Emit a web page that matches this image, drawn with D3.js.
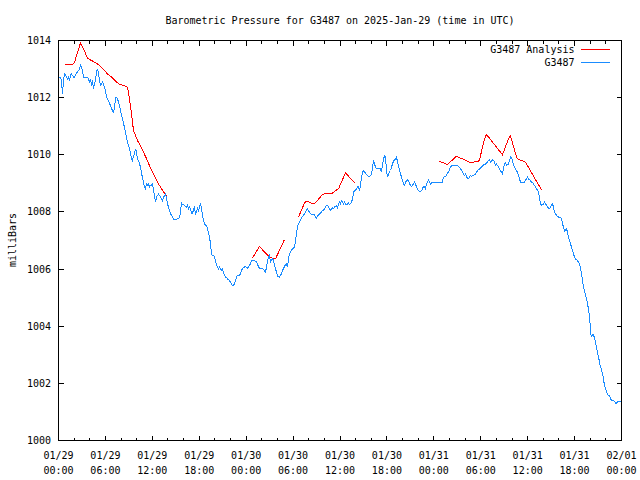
<!DOCTYPE html>
<html><head><meta charset="utf-8">
<script src="https://cdn.jsdelivr.net/npm/d3@7"></script>
<style>
html,body{margin:0;padding:0;background:#fff;}
svg{display:block;}
text{font-family:"DejaVu Sans Mono","Liberation Mono",monospace;font-size:10px;fill:#000;}
</style></head><body>
<svg id="chart" width="640" height="480"></svg>
<script>
const titleText = "Barometric Pressure for G3487 on 2025-Jan-29 (time in UTC)";
const yLabelText = "milliBars";
const seriesNames = ["G3487 Analysis", "G3487"];
const seriesColors = ["#ff0000", "#1a8cff"];
const startTime = Date.UTC(2025, 0, 29, 0, 0);
const endTime = Date.UTC(2025, 1, 1, 0, 0);
const yTickValues = [1000, 1002, 1004, 1006, 1008, 1010, 1012, 1014];

// [hours since 2025-01-29 00:00 UTC, mbar]
const stationData = [
[0.10,1012.72],[0.26,1012.72],[0.38,1012.60],[0.51,1012.13],[0.64,1012.60],[0.77,1012.83],[0.90,1012.78],[1.02,1012.72],[1.15,1012.66],[1.28,1012.72],[1.41,1012.60],[1.53,1012.78],[1.66,1012.83],[1.79,1012.78],[1.92,1012.72],[2.05,1012.72],[2.17,1012.78],[2.30,1012.89],[2.43,1012.89],[2.56,1012.95],[2.69,1013.01],[2.81,1013.13],[2.94,1013.07],[3.07,1012.95],[3.20,1012.72],[3.45,1012.72],[3.71,1012.72],[3.84,1012.66],[3.97,1012.54],[4.09,1012.60],[4.22,1012.48],[4.35,1012.60],[4.48,1012.31],[4.60,1012.48],[4.73,1012.60],[4.86,1012.89],[4.99,1013.01],[5.12,1012.83],[5.24,1012.60],[5.37,1012.43],[5.50,1012.48],[5.63,1012.54],[5.75,1012.48],[5.88,1012.37],[6.01,1012.25],[6.14,1012.02],[6.27,1011.96],[6.39,1011.90],[6.52,1011.78],[6.65,1011.73],[6.78,1011.61],[6.91,1011.55],[7.03,1011.49],[7.16,1011.61],[7.29,1012.02],[7.42,1012.02],[7.55,1011.96],[7.67,1011.84],[7.80,1011.73],[7.93,1011.55],[8.06,1011.37],[8.19,1011.26],[8.31,1011.08],[8.44,1010.97],[8.57,1010.79],[8.70,1010.62],[8.82,1010.44],[8.95,1010.32],[9.08,1010.21],[9.21,1010.03],[9.34,1009.86],[9.46,1009.80],[9.59,1009.97],[9.72,1010.03],[9.85,1010.21],[9.98,1010.09],[10.10,1009.86],[10.23,1009.80],[10.36,1009.68],[10.49,1009.57],[10.62,1009.33],[10.74,1009.22],[10.87,1009.04],[11.00,1008.87],[11.13,1008.81],[11.25,1008.98],[11.38,1008.93],[11.51,1008.98],[11.64,1008.87],[11.77,1008.93],[11.89,1008.93],[12.02,1008.98],[12.15,1008.75],[12.28,1008.57],[12.41,1008.34],[12.53,1008.52],[12.66,1008.57],[12.79,1008.63],[12.92,1008.57],[13.05,1008.52],[13.17,1008.46],[13.30,1008.40],[13.43,1008.52],[13.56,1008.57],[13.68,1008.63],[13.81,1008.52],[13.94,1008.28],[14.07,1008.17],[14.20,1008.05],
[14.33,1007.93],[14.45,1007.88],[14.58,1007.82],[14.71,1007.76],[14.84,1007.72],[14.96,1007.72],[15.22,1007.76],[15.47,1007.79],[15.60,1007.99],[15.73,1008.31],[15.86,1008.26],[16.11,1008.23],[16.37,1008.17],[16.50,1008.23],[16.63,1008.11],[16.75,1008.17],[16.88,1008.11],[17.01,1007.93],[17.14,1007.93],[17.27,1008.11],[17.39,1008.17],[17.52,1007.93],[17.65,1007.99],[17.78,1008.17],[17.90,1008.05],[18.03,1008.17],[18.16,1008.31],[18.29,1008.11],[18.42,1007.88],[18.54,1007.70],[18.67,1007.58],[18.80,1007.53],[18.93,1007.53],[19.05,1007.41],[19.18,1007.29],[19.31,1007.12],[19.44,1006.88],[19.57,1006.53],[19.69,1006.48],[19.82,1006.48],[19.95,1006.42],[20.08,1006.30],[20.20,1006.13],[20.33,1006.07],[20.46,1006.01],[20.59,1006.07],[20.72,1006.01],[20.84,1005.95],[20.97,1006.01],[21.10,1005.89],[21.23,1005.78],[21.36,1005.72],[21.48,1005.72],[21.61,1005.66],[21.74,1005.62],[21.87,1005.60],[21.99,1005.54],[22.12,1005.48],[22.25,1005.43],[22.38,1005.43],[22.51,1005.48],[22.63,1005.60],[22.76,1005.72],[22.89,1005.78],[23.02,1005.78],[23.15,1005.78],[23.27,1005.83],[23.40,1005.95],[23.53,1006.01],[23.66,1006.07],[23.78,1006.07],[23.91,1006.09],[24.04,1006.07],[24.17,1006.04],[24.30,1006.07],[24.42,1006.13],[24.55,1006.18],[24.68,1006.30],[24.94,1006.30],[25.19,1006.28],[25.32,1006.24],[25.45,1006.18],[25.58,1006.07],[25.83,1006.01],[26.09,1006.01],[26.34,1005.95],[26.47,1005.89],[26.60,1006.07],[26.73,1006.30],[26.86,1006.42],[26.98,1006.48],[27.11,1006.24],[27.24,1006.30],[27.37,1006.36],[27.50,1006.30],[27.62,1006.13],[27.75,1006.01],[27.88,1005.89],[28.01,1005.74],[28.26,1005.72],[28.39,1005.78],[28.52,1005.83],[28.65,1005.95],[28.77,1006.01],[28.90,1006.09],[29.03,1006.16],[29.16,1006.18],[29.29,1006.07],[29.41,1006.36],[29.54,1006.53],[29.67,1006.59],[29.80,1006.65],[29.92,1006.71],[30.18,1006.77],[30.31,1007.00],[30.44,1007.23],[30.56,1007.47],[30.69,1007.58],[30.82,1007.64],[30.95,1007.72],[31.07,1007.79],[31.20,1007.84],[31.33,1007.88],[31.46,1007.93],[31.59,1007.99],[31.71,1008.05],[31.84,1008.11],[31.97,1008.05],[32.10,1007.99],[32.23,1007.93],
[32.48,1007.91],[32.74,1007.90],[32.87,1007.82],[32.99,1007.79],[33.12,1007.84],[33.25,1007.90],[33.38,1007.93],[33.51,1007.96],[33.63,1007.99],[33.76,1008.05],[33.89,1008.05],[34.02,1008.11],[34.15,1008.19],[34.27,1008.23],[34.40,1008.23],[34.53,1008.19],[34.66,1008.11],[34.79,1008.05],[34.91,1008.11],[35.04,1008.14],[35.17,1008.11],[35.30,1008.17],[35.42,1008.19],[35.55,1008.23],[35.68,1008.14],[35.81,1008.28],[35.94,1008.34],[36.06,1008.28],[36.19,1008.40],[36.32,1008.34],[36.45,1008.28],[36.58,1008.34],[36.70,1008.28],[36.83,1008.25],[36.96,1008.28],[37.09,1008.31],[37.22,1008.26],[37.34,1008.28],[37.47,1008.34],[37.60,1008.46],[37.73,1008.69],[37.85,1008.73],[37.98,1008.75],[38.11,1008.81],[38.24,1008.87],[38.37,1008.89],[38.49,1008.75],[38.62,1008.93],[38.75,1009.22],[38.88,1009.39],[39.01,1009.43],[39.13,1009.39],[39.26,1009.36],[39.39,1009.31],[39.52,1009.27],[39.65,1009.24],[39.77,1009.24],[39.90,1009.27],[40.03,1009.33],[40.16,1009.57],[40.28,1009.80],[40.41,1009.68],[40.54,1009.57],[40.67,1009.51],[41.18,1009.51],[41.31,1009.39],[41.44,1009.68],[41.56,1009.80],[41.69,1010.00],[41.82,1009.89],[41.95,1009.45],[42.08,1009.22],[42.20,1009.33],[42.33,1009.39],[42.46,1009.45],[42.59,1009.57],[42.72,1009.68],[42.84,1009.78],[42.97,1009.80],[43.10,1009.86],[43.23,1009.92],[43.36,1009.74],[43.48,1009.63],[43.61,1009.45],[43.74,1009.33],[43.87,1009.22],[43.99,1009.10],[44.12,1008.98],[44.25,1008.93],[44.38,1009.04],[44.51,1009.10],[44.63,1009.12],[44.76,1009.10],[44.89,1008.98],[45.02,1008.93],[45.15,1008.89],[45.27,1008.93],[45.40,1008.98],[45.53,1009.04],[45.66,1008.98],[45.79,1008.87],[45.91,1008.81],[46.04,1008.75],[46.17,1008.71],[46.30,1008.71],[46.43,1008.75],[46.55,1008.81],[46.68,1008.89],[46.81,1008.87],[46.94,1008.81],[47.06,1008.98],[47.19,1009.04],[47.32,1009.12],[47.45,1009.04],[47.58,1008.98],[47.70,1009.01],[47.83,1009.04],[49.07,1009.04],[49.19,1009.16],[49.32,1009.22],[49.45,1009.24],[49.58,1009.27],[49.71,1009.33],[49.83,1009.39],[49.96,1009.45],[50.09,1009.57],[50.22,1009.60],[50.35,1009.63],[50.99,1009.63],[51.20,1009.57],[51.41,1009.51],
[51.54,1009.47],[51.67,1009.39],[51.80,1009.31],[51.92,1009.27],[52.05,1009.33],[52.18,1009.25],[52.31,1009.16],[52.43,1009.16],[52.56,1009.22],[52.69,1009.27],[52.82,1009.24],[52.95,1009.27],[53.07,1009.27],[53.20,1009.30],[53.33,1009.33],[53.46,1009.39],[53.59,1009.45],[53.71,1009.47],[53.84,1009.51],[53.97,1009.54],[54.10,1009.57],[54.22,1009.59],[54.35,1009.65],[54.48,1009.65],[54.61,1009.68],[54.74,1009.71],[54.86,1009.74],[54.99,1009.80],[55.12,1009.82],[55.25,1009.74],[55.38,1009.80],[55.50,1009.82],[55.63,1009.80],[55.76,1009.74],[55.89,1009.63],[56.01,1009.68],[56.14,1009.63],[56.27,1009.57],[56.40,1009.51],[56.53,1009.43],[56.65,1009.39],[56.78,1009.33],[56.91,1009.51],[57.04,1009.68],[57.17,1009.71],[57.29,1009.63],[57.42,1009.65],[57.55,1009.68],[57.68,1009.80],[57.80,1009.92],[57.93,1009.89],[58.06,1009.82],[58.19,1009.63],[58.32,1009.57],[58.44,1009.51],[58.57,1009.45],[58.70,1009.39],[58.83,1009.27],[58.96,1009.16],[59.08,1009.04],[59.60,1009.04],[59.72,1009.10],[59.85,1009.16],[59.98,1009.22],[60.11,1009.16],[60.24,1009.12],[60.36,1009.10],[60.49,1009.04],[60.62,1009.04],[60.75,1008.96],[60.87,1008.93],[61.00,1008.87],[61.13,1008.81],[61.26,1008.75],[61.39,1008.69],[61.51,1008.52],[61.64,1008.28],[61.77,1008.23],[61.90,1008.25],[62.03,1008.28],[62.15,1008.34],[62.28,1008.28],[62.41,1008.23],[62.54,1008.17],[62.66,1008.13],[62.79,1008.11],[62.92,1008.17],[63.05,1008.23],[63.18,1008.28],[63.30,1008.17],[63.43,1007.99],[63.56,1007.93],[63.69,1007.88],[63.82,1007.84],[63.94,1007.82],[64.20,1007.82],
[64.33,1007.76],[64.46,1007.58],[64.58,1007.47],[64.71,1007.33],[64.84,1007.37],[64.97,1007.41],[65.10,1007.29],[65.22,1007.12],[65.35,1007.00],[65.48,1006.88],[65.61,1006.77],[65.74,1006.65],[65.86,1006.53],[65.99,1006.42],[66.12,1006.36],[66.25,1006.32],[66.37,1006.30],[66.50,1006.24],[66.63,1006.18],[66.76,1006.01],[66.89,1005.83],[67.01,1005.60],[67.14,1005.37],[67.27,1005.25],[67.40,1005.08],[67.53,1004.96],[67.65,1004.78],[67.78,1004.61],[67.91,1004.32],[68.04,1003.91],[68.12,1003.62],[68.25,1003.68],[68.38,1003.71],[68.51,1003.62],[68.64,1003.50],[68.76,1003.33],[68.89,1003.15],[69.02,1002.97],[69.15,1002.80],[69.27,1002.62],[69.40,1002.51],[69.53,1002.39],[69.66,1002.22],[69.79,1001.98],[69.91,1001.87],[70.04,1001.75],[70.17,1001.63],[70.30,1001.57],[70.42,1001.57],[70.55,1001.52],[70.68,1001.42],[70.81,1001.40],[70.94,1001.40],[71.06,1001.38],[71.19,1001.34],[71.32,1001.28],[71.45,1001.34],[71.58,1001.36],[71.70,1001.38],[71.83,1001.38],[72.00,1001.38]
];

// analysis series; null marks a gap
const analysisData = [
[0.77,1013.16],[1.79,1013.15],[2.05,1013.24],[2.81,1013.91],[3.20,1013.71],[3.71,1013.38],[4.22,1013.30],[4.73,1013.22],[5.24,1013.13],[5.75,1012.99],[6.27,1012.83],[6.78,1012.72],[7.29,1012.58],[7.80,1012.46],[8.31,1012.43],[8.82,1012.37],[9.08,1011.96],[9.34,1011.43],[9.59,1010.85],[10.10,1010.50],[10.61,1010.24],[11.13,1009.94],[11.64,1009.62],[12.15,1009.33],[12.66,1009.04],[13.17,1008.81],[13.68,1008.61],[13.81,1008.54],
null,
[24.81,1006.39],[25.70,1006.79],[26.60,1006.52],[27.24,1006.39],[27.75,1006.36],[28.90,1007.03],
null,
[30.69,1007.82],[31.46,1008.31],[31.71,1008.38],[32.23,1008.32],[32.74,1008.28],[33.76,1008.61],[34.02,1008.63],[34.79,1008.63],[35.04,1008.66],[35.55,1008.77],[35.81,1008.81],[36.70,1009.36],[36.83,1009.33],[37.85,1009.02],
null,
[48.72,1009.77],[49.75,1009.66],[50.77,1009.92],[50.90,1009.94],[51.92,1009.83],[52.69,1009.72],[53.71,1009.78],[53.84,1009.82],[54.48,1010.56],[54.74,1010.71],[56.78,1010.00],[57.55,1010.56],[57.80,1010.67],[58.57,1009.92],[58.70,1009.86],[59.72,1009.74],[59.85,1009.68],[61.77,1008.77]
];

const W = 640, H = 480;
const plotL = 58, plotR = 621, plotT = 40, plotB = 440;
const svg = d3.select("#chart");
const toDate = h => new Date(startTime + h * 3600e3);

const x = d3.scaleUtc().domain([new Date(startTime), new Date(endTime)]).range([plotL + 0.5, plotR + 0.5]);
const y = d3.scaleLinear().domain([1000, 1014]).range([plotB + 0.5, plotT + 0.5]);
const px = v => Math.round(v - 0.5) + 0.5;

// Title
svg.append("text").attr("x", (plotL + plotR) / 2 + 0.5).attr("y", 23.5)
  .attr("text-anchor", "middle").text(titleText);

// Y label
svg.append("text").attr("transform", "translate(15.5,240) rotate(-90)")
  .attr("text-anchor", "middle").text(yLabelText);

const g = svg.append("g");

// ticks
const majorX = x.ticks(d3.utcHour.every(6));
const minorX = x.ticks(d3.utcHour.every(2)).filter(d => d.getUTCHours() % 6 !== 0);
const tickG = g.append("g").attr("stroke", "#000").attr("stroke-width", 1).attr("shape-rendering", "crispEdges");
majorX.forEach(d => {
  const xx = px(x(d));
  tickG.append("line").attr("x1", xx).attr("x2", xx).attr("y1", plotB + 0.5).attr("y2", plotB - 5 + 0.5);
  tickG.append("line").attr("x1", xx).attr("x2", xx).attr("y1", plotT + 0.5).attr("y2", plotT + 5 + 0.5);
});
minorX.forEach(d => {
  const xx = px(x(d));
  tickG.append("line").attr("x1", xx).attr("x2", xx).attr("y1", plotB + 0.5).attr("y2", plotB - 3 + 0.5);
  tickG.append("line").attr("x1", xx).attr("x2", xx).attr("y1", plotT + 0.5).attr("y2", plotT + 3 + 0.5);
});
yTickValues.forEach(v => {
  const yy = px(y(v));
  tickG.append("line").attr("x1", plotL + 0.5).attr("x2", plotL + 5.5).attr("y1", yy).attr("y2", yy);
  tickG.append("line").attr("x1", plotR + 0.5).attr("x2", plotR - 4.5).attr("y1", yy).attr("y2", yy);
});

// tick labels
const fmtDate = d3.utcFormat("%m/%d"), fmtTime = d3.utcFormat("%H:%M");
majorX.forEach(d => {
  const t = g.append("text").attr("text-anchor", "middle");
  t.append("tspan").attr("x", x(d)).attr("y", 458.5).text(fmtDate(d));
  t.append("tspan").attr("x", x(d)).attr("y", 473.5).text(fmtTime(d));
});
yTickValues.forEach(v => {
  g.append("text").attr("x", 51).attr("y", y(v) + 3.5).attr("text-anchor", "end").text(String(v));
});

// series lines
const line = d3.line().defined(d => d != null)
  .x(d => x(toDate(d[0]))).y(d => y(d[1]));
g.append("path").datum(analysisData).attr("d", line)
  .attr("fill", "none").attr("stroke", seriesColors[0]).attr("stroke-width", 1).attr("shape-rendering", "crispEdges");
g.append("path").datum(stationData).attr("d", line)
  .attr("fill", "none").attr("stroke", seriesColors[1]).attr("stroke-width", 1).attr("shape-rendering", "crispEdges");

// border
g.append("rect").attr("x", plotL + 0.5).attr("y", plotT + 0.5)
  .attr("width", plotR - plotL).attr("height", plotB - plotT)
  .attr("fill", "none").attr("stroke", "#000").attr("stroke-width", 1).attr("shape-rendering", "crispEdges");

// legend
const legendRows = [{ name: seriesNames[0], color: seriesColors[0], y: 49.5 }, { name: seriesNames[1], color: seriesColors[1], y: 62.5 }];
legendRows.forEach(r => {
  g.append("text").attr("x", 574.5).attr("y", r.y + 3.5).attr("text-anchor", "end").text(r.name);
  g.append("line").attr("x1", 581).attr("x2", 610).attr("y1", r.y).attr("y2", r.y)
    .attr("stroke", r.color).attr("stroke-width", 1).attr("shape-rendering", "crispEdges");
});
</script>
</body></html>
